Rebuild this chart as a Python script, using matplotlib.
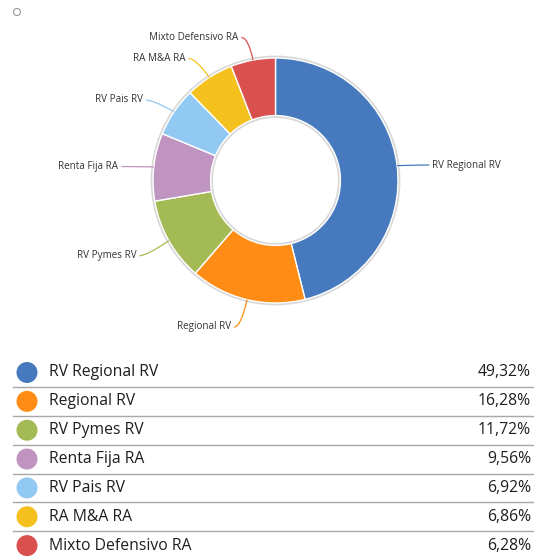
import matplotlib
matplotlib.use("Agg")
import matplotlib.pyplot as plt
from matplotlib.patches import Circle, PathPatch
from matplotlib.path import Path
import numpy as np

plt.rcParams['font.family'] = ['Open Sans', 'DejaVu Sans']

categories = ["RV Regional RV", "Regional RV", "RV Pymes RV", "Renta Fija RA",
              "RV Pais RV", "RA M&A RA", "Mixto Defensivo RA"]
values = [49.32, 16.28, 11.72, 9.56, 6.92, 6.86, 6.28]
pct_labels = ["49,32%", "16,28%", "11,72%", "9,56%", "6,92%", "6,86%", "6,28%"]
colors = ["#4679bd", "#ff8c14", "#a3ba55", "#bf94c0", "#92c9f3", "#f5c11e", "#d9504f"]

W, H = 534, 558
fig = plt.figure(figsize=(W / 100, H / 100), dpi=100)
ax = fig.add_axes([0, 0, 1, 1])

# pixel coords -> data (y up)
cx, cy = 275.5, H - 180.5
R = 122.5

# faint shadow ring
ax.add_patch(Circle((cx, cy), R + 1.0, facecolor="none", edgecolor="#d8d8d8", lw=2.0, zorder=0))
ax.add_patch(Circle((cx, cy), R * 0.53 - 1.0, facecolor="none", edgecolor="#d8d8d8", lw=2.0, zorder=0))

wedges, _ = ax.pie(values, colors=colors, startangle=90, counterclock=False,
                   center=(cx, cy), radius=R,
                   wedgeprops=dict(width=R * 0.47, edgecolor="white", linewidth=1.0))

# slice labels with curved connectors
for w, lab, col in zip(wedges, categories, colors):
    ang = np.deg2rad((w.theta1 + w.theta2) / 2)
    ux, uy = np.cos(ang), np.sin(ang)
    edge = (cx + R * ux, cy + R * uy)
    p0 = (cx + (R + 25.5) * ux, cy + (R + 25.5) * uy - 2.5)
    side = 1 if ux >= 0 else -1
    tend = (p0[0] + side * 7, p0[1])
    path = Path([tend, p0, edge], [Path.MOVETO, Path.CURVE3, Path.CURVE3])
    ax.add_patch(PathPatch(path, facecolor="none", edgecolor=col, lw=0.9, zorder=3))
    ax.text(p0[0] + side * 10, p0[1], lab, fontsize=7.1, color="#333333",
            ha="left" if side > 0 else "right", va="center")

# small open circle top-left
ax.add_patch(Circle((17, H - 12), 3.5, facecolor="white", edgecolor="#999999", lw=0.8))

# legend table
row0, step = 372.5, 28.85
for i, (lab, pct, col) in enumerate(zip(categories, pct_labels, colors)):
    y = H - (row0 + i * step)
    ax.add_patch(Circle((27, y), 10.5, facecolor=col, edgecolor="none"))
    ax.text(49, y, lab, fontsize=11.3, color="#1e1e1e", ha="left", va="center")
    ax.text(531, y, pct, fontsize=11.3, color="#1e1e1e", ha="right", va="center")
    if i < len(categories) - 1:
        ax.plot([13, 534], [y - 14.5, y - 14.5], color="#a8a8a8", lw=1.0)

ax.set_xlim(0, W)
ax.set_ylim(0, H)
ax.set_aspect("equal")
ax.axis("off")

fig.savefig("out.png", dpi=100)
